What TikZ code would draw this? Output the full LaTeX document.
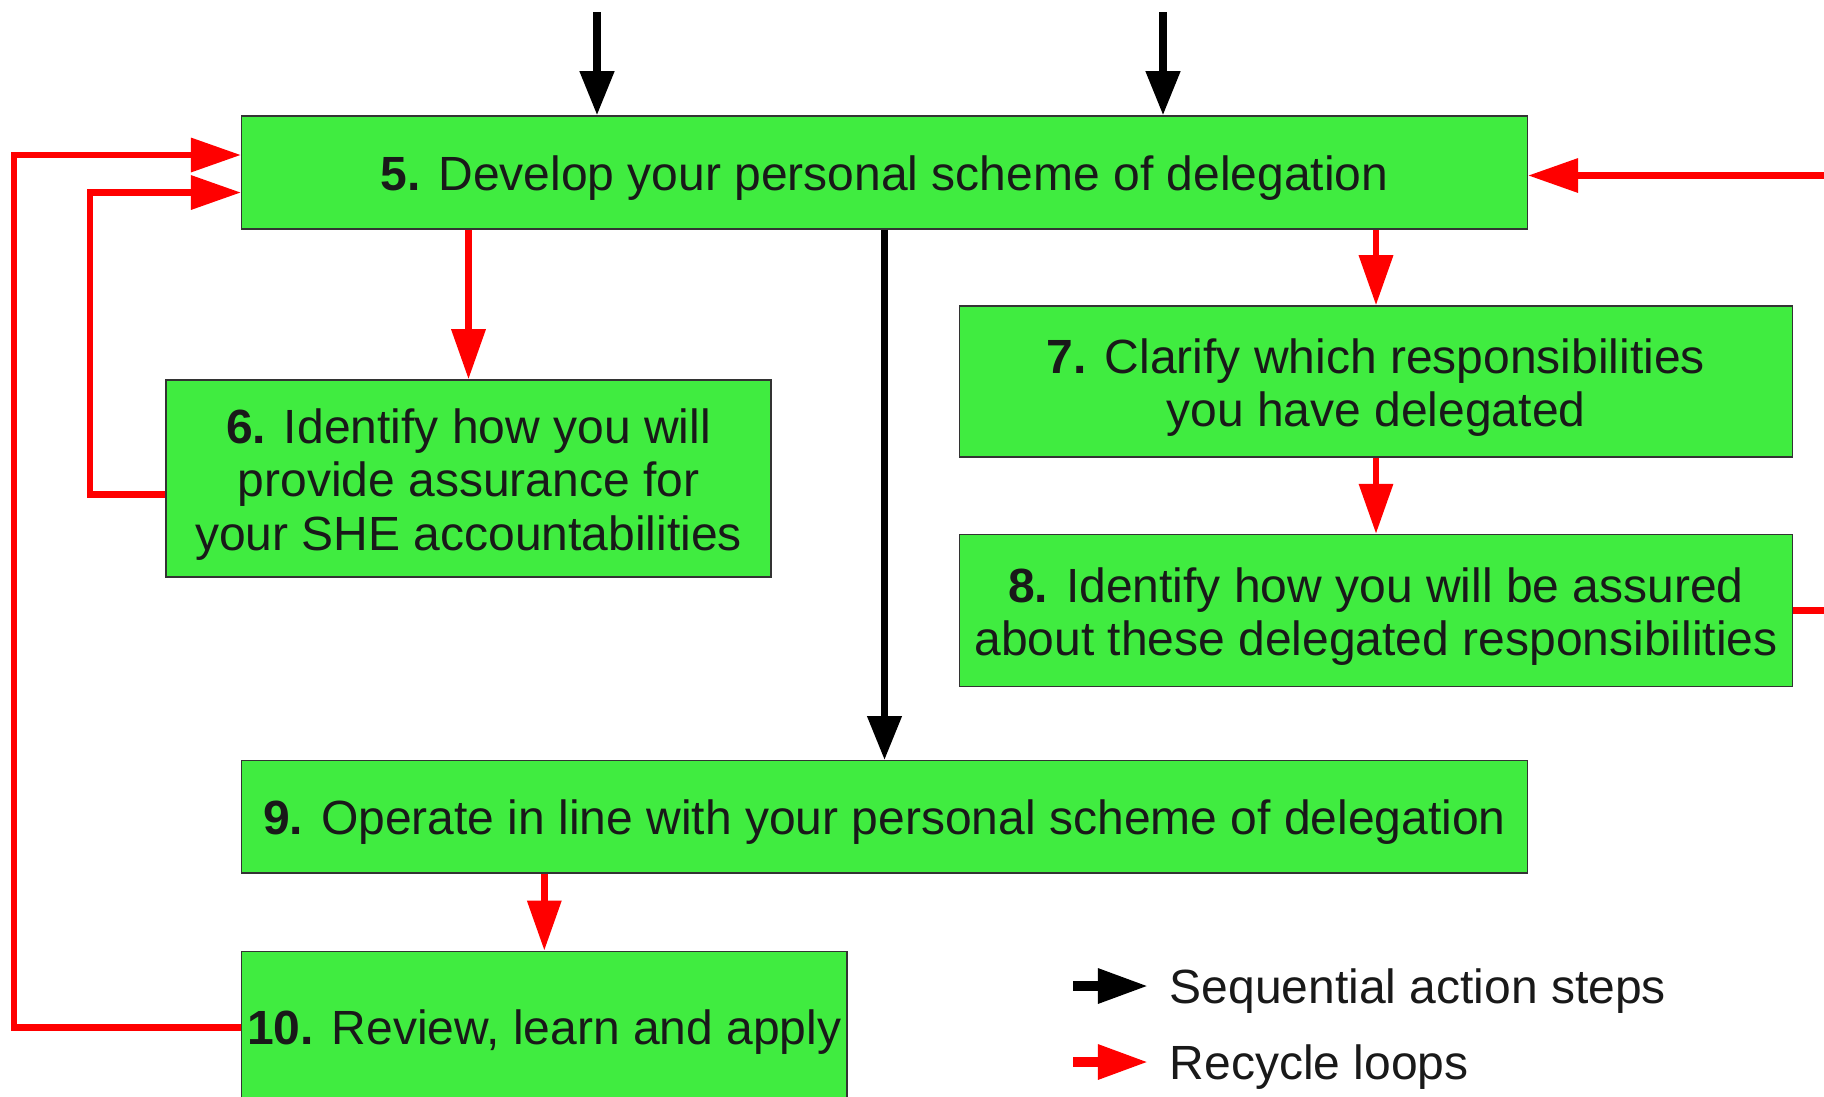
\documentclass[tikz,border=0pt]{standalone}
\usepackage{fontspec}
\setmainfont{Liberation Sans}
\usepackage{xcolor}
\usetikzlibrary{arrows.meta,positioning}
\definecolor{stepgreen}{RGB}{64,236,64}
\definecolor{loopred}{RGB}{255,0,0}
\newcommand{\tallstrut}{\rule{0pt}{13.2pt}}

\begin{document}
\begin{tikzpicture}[
    x=0.01cm, y=-0.01cm,
    font=\fontsize{13.65}{15.2}\selectfont,
    stepbox/.style={draw=black!80, line width=0.4pt, fill=stepgreen, inner sep=0pt, align=center, text=black!90,
      execute at begin node={\rule{0pt}{12.8pt}}},
    seqarr/.style={-{Triangle[length=4.4mm, width=3.3mm]}, line width=2.1pt, black},
    recarr/.style={-{Triangle[length=5mm, width=3.3mm]}, line width=1.85pt, loopred},
    legarr/.style={-{Triangle[length=5mm, width=3.3mm]}, line width=2.6pt},
    legtext/.style={inner sep=0pt, anchor=west, text=black!90, execute at begin node={\rule{0pt}{12.8pt}}},
  ]
  \useasboundingbox (0,0) rectangle (1824,1096);
  \clip (0,0) rectangle (1824,1096);

  % Main steps (top to bottom)
  \node (dev) [stepbox, minimum width=12.85cm, minimum height=1.13cm] at (884.5,172.5) {\textbf{5.} Develop your personal scheme of delegation};
  \node (operate) [stepbox, minimum width=12.85cm, minimum height=1.12cm, below=5.30cm of dev] {\textbf{9.} Operate in line with your personal scheme of delegation};
  \node (review) [stepbox, minimum width=6.05cm, minimum height=1.52cm, below right=7.7mm and 0mm of operate.south west] {\textbf{10.} Review, learn and apply};

  % Assurance branches
  \node (assure) [stepbox, minimum width=6.05cm, minimum height=1.97cm] at (468.5,478.5) {\tallstrut\textbf{6.} Identify how you will\\provide assurance for\\your SHE accountabilities};
  \node (clarify) [stepbox, minimum width=8.32cm, minimum height=1.51cm] at (1376,381.5) {\tallstrut\textbf{7.} Clarify which responsibilities\\you have delegated};
  \node (assured) [stepbox, minimum width=8.32cm, minimum height=1.52cm, below=7.6mm of clarify] {\tallstrut\textbf{8.} Identify how you will be assured\\about these delegated responsibilities};

  % Sequential flow
  \coordinate (inL) at (597,12);
  \coordinate (inR) at (1163,12);
  \draw [seqarr] (inL) -- (inL |- dev.north);
  \draw [seqarr] (inR) -- (inR |- dev.north);
  \draw [seqarr] (dev) -- (operate);

  % Recycle loops
  \draw [recarr] (dev.south -| assure.north) -- (assure.north);
  \draw [recarr] (dev.south -| clarify.north) -- (clarify.north);
  \draw [recarr] (clarify) -- (assured);
  \draw [recarr] (operate.south -| review.north) -- (review.north);
  \draw [recarr] ([yshift=-1.6mm]assure.west) -- ++(-75,0) |- ([yshift=-2mm]dev.west);
  \draw [recarr] (review.west) -- ++(-227,0) |- ([yshift=1.75mm]dev.west);
  \draw [recarr] (assured.east) -- ++(80,0) |- ([yshift=-0.3mm]dev.east);

  % Legend
  \node (seqlbl) [legtext] at (1169,986) {Sequential action steps};
  \node (reclbl) [legtext] at (1169,1062) {Recycle loops};
  \coordinate (seqtail) at (1073,986);
  \coordinate (rectail) at (1073,1062);
  \draw [legarr, black] (seqtail) -- ([xshift=-2.1mm]seqlbl.west);
  \draw [legarr, loopred] (rectail) -- ([xshift=-2.1mm]reclbl.west);
\end{tikzpicture}
\end{document}
